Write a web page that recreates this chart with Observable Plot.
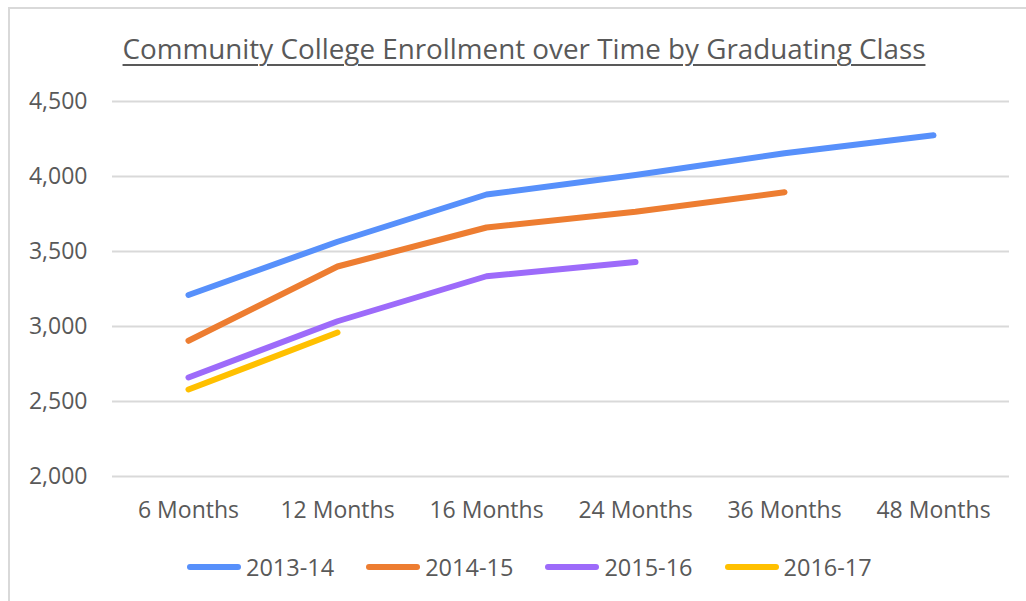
<!DOCTYPE html>
<html>
<head>
<meta charset="utf-8">
<script src="https://cdn.jsdelivr.net/npm/d3@7"></script>
<script src="https://cdn.jsdelivr.net/npm/@observablehq/plot@0.6"></script>
<style>
  html, body { margin: 0; padding: 0; background: #fff; }
  #wrap { position: relative; width: 1026px; height: 601px; overflow: hidden; font-family: "Open Sans", sans-serif; color: #595959; }
  #border { position: absolute; left: 8px; top: 7px; width: 1100px; height: 700px; border: 2px solid #d9d9d9; box-sizing: border-box; }
  #title { position: absolute; left: 11px; top: 29px; width: 1026px; text-align: center; font-size: 27.8px; text-decoration: underline; text-underline-offset: 5px; text-decoration-thickness: 1.5px; white-space: nowrap; }
  #chart { position: absolute; left: 0; top: 0; }
  #legend { position: absolute; left: 187px; top: 551px; display: flex; align-items: center; font-size: 23.5px; white-space: nowrap; }
  .item { display: flex; align-items: center; margin-right: 32px; }
  .sw { width: 54px; height: 6px; border-radius: 3px; margin-right: 5px; }
</style>
</head>
<body>
<div id="wrap">
  <div id="border"></div>
  <div id="title">Community College Enrollment over Time by Graduating Class</div>
  <div id="chart"></div>
  <div id="legend"></div>
</div>
<script>
const months = ["6 Months", "12 Months", "16 Months", "24 Months", "36 Months", "48 Months"];
const seriesNames = ["2013-14", "2014-15", "2015-16", "2016-17"];
const colors = ["#5790fb", "#ed7d31", "#9d6bfa", "#ffc000"];
const values2013 = [3210, 3565, 3880, 4010, 4155, 4275];
const values2014 = [2905, 3400, 3660, 3765, 3895];
const values2015 = [2660, 3035, 3335, 3430];
const values2016 = [2580, 2960];
const yTicks = [2000, 2500, 3000, 3500, 4000, 4500];

const allValues = [values2013, values2014, values2015, values2016];
const data = [];
allValues.forEach((vals, i) => {
  vals.forEach((v, j) => data.push({series: seriesNames[i], month: months[j], value: v}));
});

const plot = Plot.plot({
  width: 1026,
  height: 540,
  marginTop: 101,
  marginBottom: 64,
  marginLeft: 112,
  marginRight: 17,
  style: { fontSize: "23px", fontFamily: "Open Sans, sans-serif", color: "#595959", background: "transparent", overflow: "visible" },
  x: { type: "point", domain: months, padding: 0.5, label: null },
  y: { domain: [2000, 4500], label: null },
  color: { domain: seriesNames, range: colors },
  marks: [
    Plot.gridY(yTicks, { stroke: "#d9d9d9", strokeOpacity: 1, strokeWidth: 2 }),
    Plot.axisY(yTicks, { tickSize: 0, tickPadding: 25, tickFormat: d3.format(","), label: null }),
    Plot.axisX({ tickSize: 0, tickPadding: 25, label: null }),
    Plot.line(data, { x: "month", y: "value", z: "series", stroke: "series", strokeWidth: 6, strokeLinecap: "round", strokeLinejoin: "round" })
  ]
});
document.getElementById("chart").appendChild(plot);

const legend = document.getElementById("legend");
seriesNames.forEach((s, i) => {
  const item = document.createElement("div");
  item.className = "item";
  const sw = document.createElement("div");
  sw.className = "sw";
  sw.style.background = colors[i];
  const t = document.createElement("span");
  t.textContent = s;
  item.appendChild(sw);
  item.appendChild(t);
  legend.appendChild(item);
});
</script>
</body>
</html>
